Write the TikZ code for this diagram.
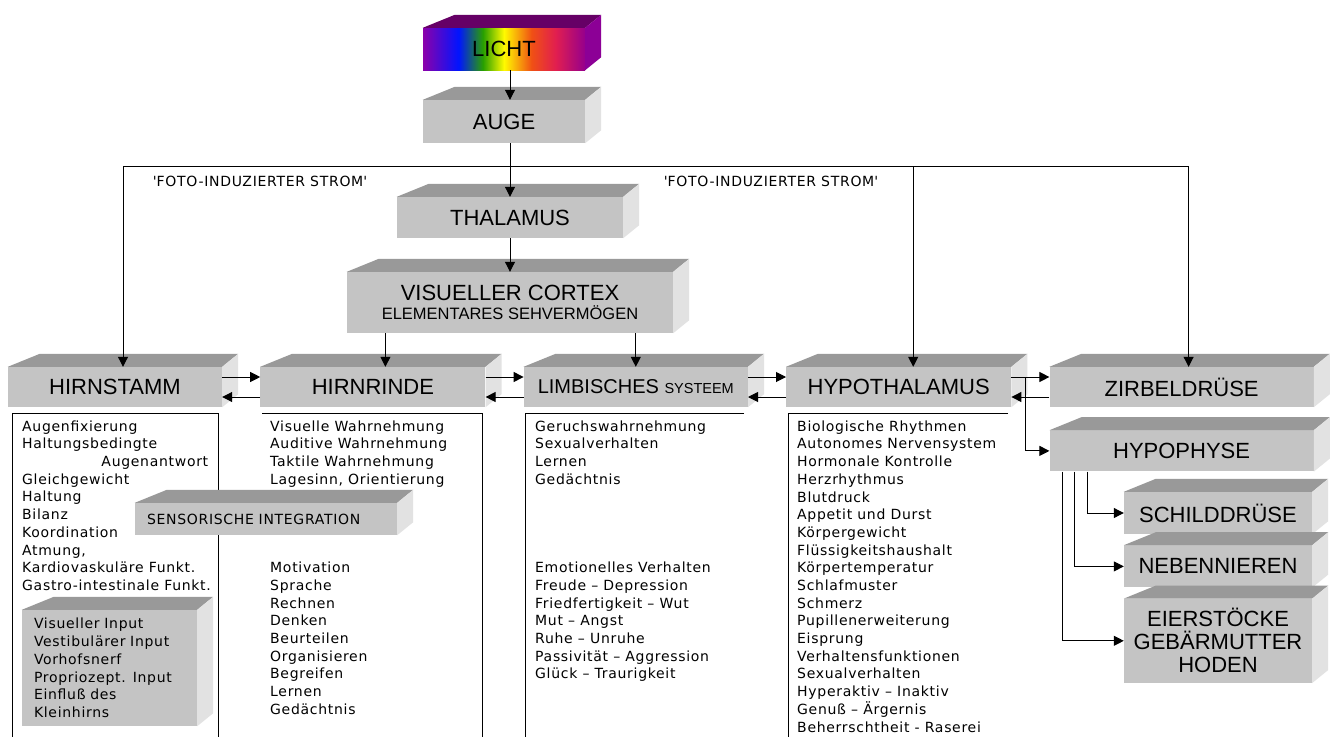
\documentclass[tikz,border=0pt]{standalone}
\usepackage{fontspec}
\setmainfont{Liberation Sans}
\newfontfamily\dejavu[LetterSpace=5]{DejaVu Sans}
\usetikzlibrary{arrows.meta, positioning}

\definecolor{kfront}{RGB}{196,196,196}
\definecolor{ktop}{RGB}{153,153,153}
\definecolor{kside}{RGB}{226,226,226}
\definecolor{lichtoben}{RGB}{102,0,102}
\definecolor{lichtseite}{RGB}{140,0,150}
\definecolor{lilalinks}{RGB}{140,0,170}
\definecolor{lilarechts}{RGB}{150,0,140}
\definecolor{sblau}{RGB}{0,20,255}
\definecolor{sgruen}{RGB}{40,160,0}
\definecolor{sgelb}{RGB}{255,250,0}
\definecolor{sorange}{RGB}{240,80,20}
\definecolor{srot}{RGB}{225,30,80}
\pgfdeclarehorizontalshading{spektrum}{100bp}{color(0bp)=(lilalinks); color(25bp)=(lilalinks);
  color(36bp)=(sblau); color(43.5bp)=(sgruen); color(50bp)=(sgelb); color(58.5bp)=(sorange);
  color(66bp)=(srot); color(75bp)=(lilarechts); color(100bp)=(lilarechts)}

\newcommand{\titel}{\fontsize{22}{23}\selectfont}
\newcommand{\spaltenschrift}{\dejavu\fontsize{14}{17.7}\selectfont}

\begin{document}
\begin{tikzpicture}[x=1pt, y=-1pt,
    node distance = 11pt and 38pt,
    kiste/.style = {inner sep=0pt, align=center, font=\titel},
    grau/.style = {kiste, fill=kfront},
    spalte/.style = {anchor=north west, inner sep=0pt, align=left, font=\spaltenschrift},
    strom/.style = {inner sep=0pt, font=\spaltenschrift},
    pfeil/.style = {-{Triangle[length=10pt, width=10pt]}, line width=1pt},
    rahmen/.style = {line width=1pt}
    ]

  \fill[white] (0,0) rectangle (1335,736);
  \useasboundingbox (0,0) rectangle (1335,736);

  % Rahmen der Textspalten
  \draw[rahmen] (12,737) |- (218,413) -- (218,737);
  \draw[rahmen] (262,413) -| (482,737);
  \draw[rahmen] (744,413) -| (525,737);
  \draw[rahmen] (1008,413) -| (788,737);

  \node[kiste, shading=spektrum, minimum width=162pt, minimum height=42pt] (licht) at (504,49) {LICHT};
  \node[grau, minimum width=162pt, minimum height=43pt] (auge) at (504,121.5) {AUGE};
  \node[grau, minimum width=226pt, minimum height=41pt] (thalamus) at (510,217.5) {THALAMUS};
  \node[grau, minimum width=326pt, minimum height=61pt] (viscortex) at (510,302.5)
    {VISUELLER CORTEX\\[-4pt]{\fontsize{16.5}{18}\selectfont ELEMENTARES SEHVERMÖGEN}};

  \node[grau, minimum width=214pt, minimum height=40pt] (hirnstamm) at (115,387) {HIRNSTAMM};
  \node[grau, minimum width=225pt, minimum height=40pt, right=of hirnstamm] (hirnrinde) {HIRNRINDE};
  \node[grau, minimum width=224pt, minimum height=40pt, right=of hirnrinde] (limbisch)
    {\fontsize{20}{22}\selectfont LIMBISCHES {\fontsize{14.5}{16}\selectfont SYSTEEM}};
  \node[grau, minimum width=225pt, minimum height=40pt, right=of limbisch] (hypothal) {HYPOTHALAMUS};
  \node[grau, minimum width=264pt, minimum height=40pt, right=of hypothal] (zirbel) {ZIRBELDRÜSE};

  \node[grau, minimum width=264pt, minimum height=41pt, below=23pt of zirbel] (hypophyse) {HYPOPHYSE};
  \node[grau, minimum width=188pt, minimum height=42pt] (schild) at (1218,513) {SCHILDDRÜSE};
  \node[grau, minimum width=188pt, minimum height=42pt, below=of schild] (neben) {NEBENNIEREN};
  \node[grau, minimum width=188pt, minimum height=84pt, below=of neben] (eier)
    {EIERSTÖCKE\\GEBÄRMUTTER\\HODEN};

  \node[grau, font=\spaltenschrift, minimum width=262pt, minimum height=32pt,
    text width=238pt, align=left] (sensor) at (266,519) {SENSORISCHE INTEGRATION};
  \node[grau, font=\spaltenschrift, minimum width=175pt, minimum height=116pt,
    text width=151pt, align=left] (eingang) at (109.5,668)
    {Visueller Input\\ Vestibulärer Input\\ Vorhofsnerf\\ Propriozept. Input\\ Einfluß des\\ Kleinhirns};

  % Deckflaechen und Seitenflaechen
  \foreach \k/\ob/\se in {licht/lichtoben/lichtseite, auge/ktop/kside, thalamus/ktop/kside,
      viscortex/ktop/kside, hirnstamm/ktop/kside, hirnrinde/ktop/kside, limbisch/ktop/kside,
      hypothal/ktop/kside, zirbel/ktop/kside, hypophyse/ktop/kside, schild/ktop/kside,
      neben/ktop/kside, eier/ktop/kside, sensor/ktop/kside, eingang/ktop/kside} {
    \fill[\ob] (\k.north west) -- ++(32,-13) -- ([shift={(16,-13)}]\k.north east) -- (\k.north east) -- cycle;
    \fill[\se] (\k.north east) -- ++(16,-13) -- ([shift={(16,-13)}]\k.south east) -- (\k.south east) -- cycle;
  }

  \node[strom] (strom1) at (260,181) {\textquotesingle FOTO-INDUZIERTER STROM\textquotesingle};
  \node[strom] (strom2) at (771,181) {\textquotesingle FOTO-INDUZIERTER STROM\textquotesingle};

  % Textspalten
  \node[spalte] (t-stamm) at (22,418.6) {\strut Augenfixierung\\ Haltungsbedingte\\
    \makebox[186pt][r]{Augenantwort}\\ Gleichgewicht\\ Haltung\\ Bilanz\\ Koordination\\
    Atmung,\\ Kardiovaskuläre Funkt.\\ Gastro-intestinale Funkt.};
  \node[spalte] (t-rinde1) at (270,418.6) {\strut Visuelle Wahrnehmung\\ Auditive Wahrnehmung\\
    Taktile Wahrnehmung\\ Lagesinn, Orientierung};
  \node[spalte] (t-rinde2) at (270,560.2) {\strut Motivation\\ Sprache\\ Rechnen\\ Denken\\
    Beurteilen\\ Organisieren\\ Begreifen\\ Lernen\\ Gedächtnis};
  \node[spalte] (t-limb1) at (535,418.6) {\strut Geruchswahrnehmung\\ Sexualverhalten\\
    Lernen\\ Gedächtnis};
  \node[spalte] (t-limb2) at (535,560.2) {\strut Emotionelles Verhalten\\ Freude – Depression\\
    Friedfertigkeit – Wut\\ Mut – Angst\\ Ruhe – Unruhe\\ Passivität – Aggression\\
    Glück – Traurigkeit};
  \node[spalte] (t-hypo) at (797,418.6) {\strut Biologische Rhythmen\\ Autonomes Nervensystem\\
    Hormonale Kontrolle\\ Herzrhythmus\\ Blutdruck\\ Appetit und Durst\\ Körpergewicht\\
    Flüssigkeitshaushalt\\ Körpertemperatur\\ Schlafmuster\\ Schmerz\\ Pupillenerweiterung\\
    Eisprung\\ Verhaltensfunktionen\\ Sexualverhalten\\ Hyperaktiv – Inaktiv\\
    Genuß – Ärgernis\\ Beherrschtheit - Raserei};

  % Verbindungen
  \coordinate (strom) at (510,166);
  \draw[pfeil] (licht.south -| thalamus.north) -- (auge.north -| thalamus.north);
  \draw[pfeil] (auge.south -| thalamus.north) -- (thalamus.north);
  \draw[pfeil] (strom) -| ([xshift=8pt]hirnstamm.north);
  \draw[pfeil] (strom) -| ([xshift=7pt]zirbel.north);
  \draw[pfeil] ([xshift=14.5pt]hypothal.north |- strom) -- ([xshift=14.5pt]hypothal.north);
  \draw[pfeil] (thalamus.south) -- (viscortex.north);
  \draw[pfeil] ([xshift=12.5pt]hirnrinde.north |- viscortex.south) -- ([xshift=12.5pt]hirnrinde.north);
  \draw[pfeil] (limbisch.north |- viscortex.south) -- (limbisch.north);

  \foreach \a/\b in {hirnstamm/hirnrinde, hirnrinde/limbisch, limbisch/hypothal, hypothal/zirbel} {
    \draw[pfeil] ([yshift=10pt]\a.east) -- ([yshift=10pt]\b.west);
    \draw[pfeil] ([yshift=-10pt]\b.west) -- ([yshift=-10pt]\a.east);
  }
  \draw[pfeil] ([yshift=10pt]hypothal.east) ++(14,0) |- (hypophyse.west);

  \draw[pfeil] ([xshift=38pt]hypophyse.south west) |- (schild.west);
  \draw[pfeil] ([xshift=25pt]hypophyse.south west) |- (neben.west);
  \draw[pfeil] ([xshift=13pt]hypophyse.south west) |- (eier.west);
\end{tikzpicture}
\end{document}
